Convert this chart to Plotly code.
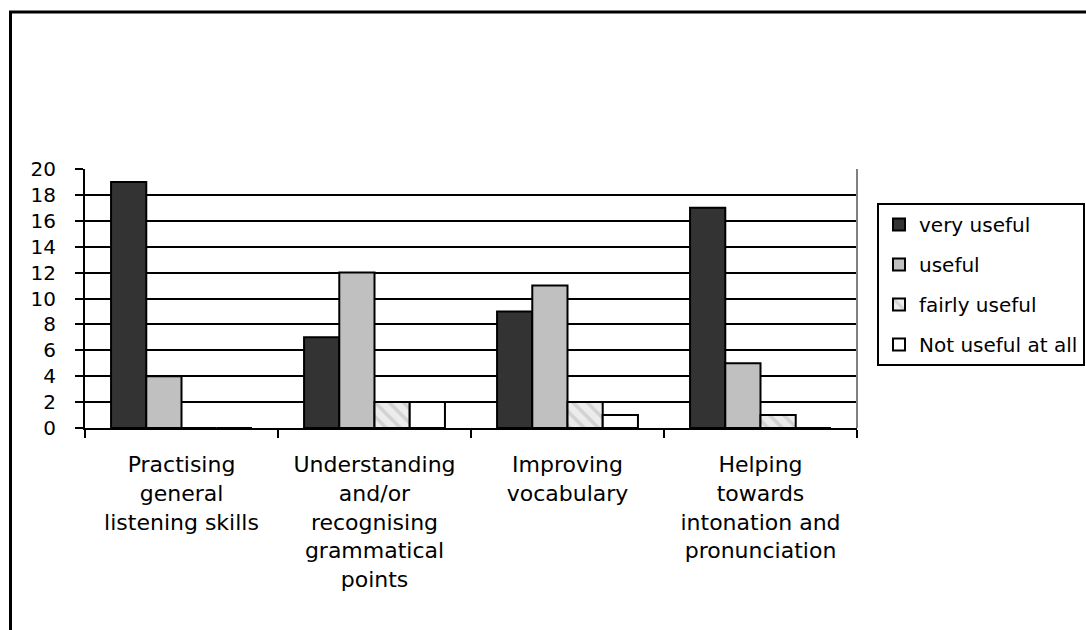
import plotly.graph_objects as go

# Survey responses: how useful each activity was rated
categories = [
    "Practising<br>general<br>listening skills",
    "Understanding<br>and/or<br>recognising<br>grammatical<br>points",
    "Improving<br>vocabulary",
    "Helping<br>towards<br>intonation and<br>pronunciation",
]
very_useful = [19, 7, 9, 17]
useful = [4, 12, 11, 5]
fairly_useful = [0, 2, 2, 1]
not_useful = [0, 2, 1, 0]
y_ticks = list(range(0, 21, 2))

W, H = 1086, 630
L, R, T, B = 85, 857, 169, 428  # plot area in pixels

def px_x(x):
    return (x - L) / (R - L)

def px_y(y):
    return (B - y) / (B - T)

FONT = "DejaVu Sans"
outline = dict(color="black", width=2)

fig = go.Figure()
fig.add_trace(go.Bar(name="very useful", x=categories, y=very_useful,
                     marker=dict(color="#333333", line=outline), legendgroup="a"))
fig.add_trace(go.Bar(name="useful", x=categories, y=useful,
                     marker=dict(color="#c0c0c0", line=outline), legendgroup="b"))
fig.add_trace(go.Bar(name="fairly useful", x=categories, y=fairly_useful,
                     marker=dict(color="#ececec", line=outline,
                                 pattern=dict(shape="\\", fgcolor="#b8b8b8",
                                              bgcolor="#ececec", size=10, solidity=0.35)),
                     legendgroup="c"))
fig.add_trace(go.Bar(name="Not useful at all", x=categories, y=not_useful,
                     marker=dict(color="white", line=outline), legendgroup="d"))

fig.update_layout(
    width=W, height=H,
    margin=dict(l=L, r=W - R, t=T, b=H - B, pad=0, autoexpand=False),
    paper_bgcolor="white", plot_bgcolor="white",
    barmode="group", bargap=0.27, bargroupgap=0,
    font=dict(family=FONT, size=20, color="black"),
    showlegend=True,
    legend=dict(x=px_x(877), y=px_y(203), xanchor="left", yanchor="top",
                bordercolor="black", borderwidth=2, bgcolor="white",
                font=dict(family=FONT, size=20, color="black"),
                traceorder="grouped", tracegroupgap=11,
                itemwidth=30),
    xaxis=dict(showgrid=False, showline=True, linecolor="black", linewidth=2,
               ticks="outside", ticklen=8, tickwidth=2, tickcolor="black",
               tickson="boundaries", ticklabelstandoff=16,
               tickfont=dict(family=FONT, size=22, color="black"), fixedrange=True),
    yaxis=dict(range=[0, 20], tickvals=y_ticks, showgrid=True, gridcolor="black",
               gridwidth=2, showline=True, linecolor="black", linewidth=2,
               ticks="outside", ticklen=8, tickwidth=2, tickcolor="black",
               ticklabelstandoff=15, zeroline=False,
               tickfont=dict(family=FONT, size=20, color="black"), fixedrange=True),
    shapes=[
        # grey right edge of the plot area
        dict(type="line", xref="paper", yref="paper", x0=1, x1=1, y0=0, y1=1,
             line=dict(color="#808080", width=2)),
        # outer chart border (left and top edges)
        dict(type="path", xref="paper", yref="paper",
             path=f"M {px_x(10.5)} {px_y(640)} L {px_x(10.5)} {px_y(12)} L {px_x(1100)} {px_y(12)}",
             line=dict(color="black", width=3)),
    ],
)

fig.write_html("out.html")
